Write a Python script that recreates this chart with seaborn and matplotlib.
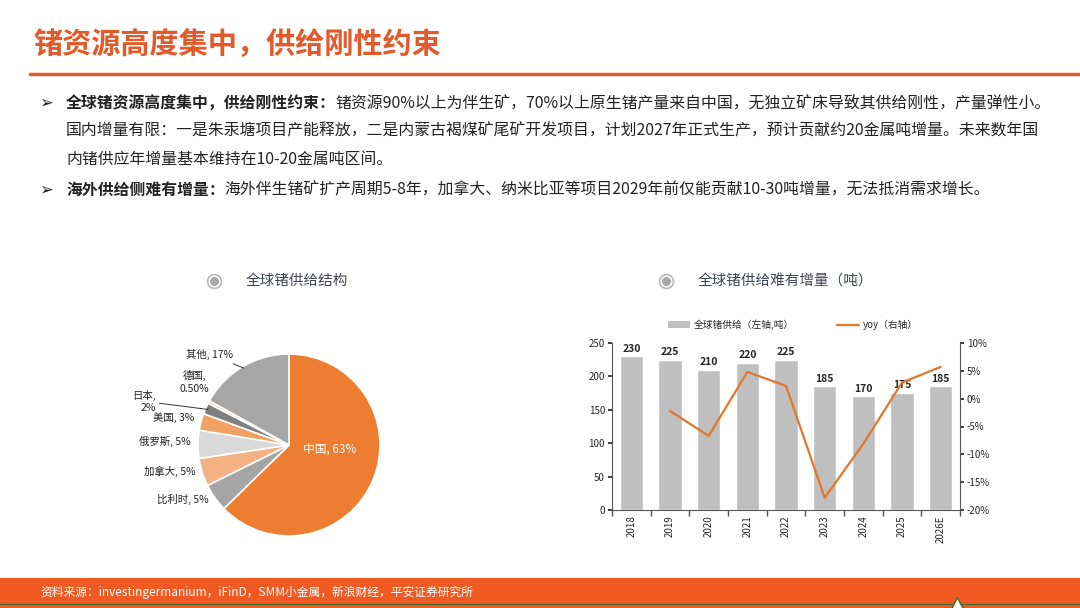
import numpy as np
import pandas as pd
import seaborn as sns
import matplotlib.pyplot as plt
from matplotlib.patches import Patch, Rectangle
from matplotlib.lines import Line2D

sns.set_theme(style="white")
plt.rcParams['font.family'] = ['Noto Sans CJK SC', 'DejaVu Sans']
plt.rcParams['axes.unicode_minus'] = False

# Data
pie_labels = ['中国', '比利时', '加拿大', '俄罗斯', '美国', '日本', '德国', '其他']
pie_values = [63, 5, 5, 5, 3, 2, 0.5, 17]
pie_pct_text = ['63%', '5%', '5%', '5%', '3%', '2%', '0.50%', '17%']
pie_colors = ['#ED7D31', '#A5A5A5', '#F4B183', '#D9D9D9', '#F2A164', '#7F7F7F', '#F8CBAD', '#A6A6A6']

years = ['2018', '2019', '2020', '2021', '2022', '2023', '2024', '2025', '2026E']
supply = [230, 225, 210, 220, 225, 185, 170, 175, 185]
yoy = [np.nan, -2.2, -6.7, 4.8, 2.3, -17.8, -8.1, 2.9, 5.7]

ORANGE = '#E2592A'
FOOT = '#F05A22'
LINE_OR = '#E2762A'

fig = plt.figure(figsize=(10.8, 6.08), dpi=100)
W, H = 1080, 608


def fx(px):
    return px / W


def fy(py):
    return 1 - py / H


# Header
fig.text(fx(33), fy(45), '锗资源高度集中，供给刚性约束', color=ORANGE, fontsize=21,
         fontweight='bold', va='center', ha='left')
fig.add_artist(Line2D([fx(30), 1], [fy(74), fy(74)], color=ORANGE, lw=2.5,
                      transform=fig.transFigure))

# Bullet text
renderer = fig.canvas.get_renderer()
body_size = 11.4
body_color = '#222222'


def draw_line(x_px, y_px, segments):
    x = fx(x_px)
    for txt, bold in segments:
        t = fig.text(x, fy(y_px), txt, fontsize=body_size, color=body_color,
                     fontweight='bold' if bold else 'normal', va='center', ha='left')
        bb = t.get_window_extent(renderer=renderer)
        x += bb.width / W


bullet_kw = dict(fontsize=12, color='#222222', va='center', ha='left',
                 fontweight='bold', family=['DejaVu Sans'])
fig.text(fx(39), fy(103), '➢', **bullet_kw)
draw_line(66, 103, [('全球锗资源高度集中，供给刚性约束：', True),
                    ('锗资源90%以上为伴生矿，70%以上原生锗产量来自中国，无独立矿床导致其供给刚性，产量弹性小。', False)])
draw_line(66, 131, [('国内增量有限：一是朱汞塘项目产能释放，二是内蒙古褐煤矿尾矿开发项目，计划2027年正式生产，预计贡献约20金属吨增量。未来数年国', False)])
draw_line(66, 159, [('内锗供应年增量基本维持在10-20金属吨区间。', False)])
fig.text(fx(39), fy(190), '➢', **bullet_kw)
draw_line(66, 190, [('海外供给侧难有增量：', True),
                    ('海外伴生锗矿扩产周期5-8年，加拿大、纳米比亚等项目2029年前仅能贡献10-30吨增量，无法抵消需求增长。', False)])

# Section titles with radio icons
for icon_x, title in [(214, '全球锗供给结构'), (666, '全球锗供给难有增量（吨）')]:
    fig.add_artist(Line2D([fx(icon_x)], [fy(281)], marker='o', markersize=10,
                          markerfacecolor='white', markeredgecolor='#BBBBBB',
                          markeredgewidth=1.3, transform=fig.transFigure))
    fig.add_artist(Line2D([fx(icon_x)], [fy(281)], marker='o', markersize=5.5,
                          markerfacecolor='#A8A8A8', markeredgecolor='#A8A8A8',
                          transform=fig.transFigure))
    fig.text(fx(icon_x + 32), fy(281), title, fontsize=10.5, color='#3F4452',
             va='center', ha='left')

# Pie chart
ax_pie = fig.add_axes([fx(198), fy(536), 182 / W, 182 / H])
wedges, _ = ax_pie.pie(pie_values, colors=pie_colors, startangle=90, counterclock=False,
                       wedgeprops=dict(edgecolor='white', linewidth=1.2))
ax_pie.set_xlim(-1, 1)
ax_pie.set_ylim(-1, 1)
ax_pie.set_aspect('equal')

lab_kw = dict(fontsize=7.5, color='#222222')
for w, name, pct in zip(wedges, pie_labels, pie_pct_text):
    mid = np.deg2rad((w.theta1 + w.theta2) / 2)
    cx, cy = np.cos(mid), np.sin(mid)
    if name == '中国':
        ax_pie.text(0.45, -0.05, f'{name}, {pct}', color='white', fontsize=8.5,
                    ha='center', va='center')
    elif name == '日本':
        ax_pie.annotate(f'{name},\n{pct}', xy=(0.97 * cx, 0.97 * cy), xytext=(-1.46, 0.48),
                        ha='right', va='center', annotation_clip=False,
                        arrowprops=dict(arrowstyle='-', color='#333333', lw=0.7,
                                        shrinkA=0, shrinkB=0), **lab_kw)
    elif name == '德国':
        ax_pie.text(-1.04, 0.69, f'{name},\n{pct}', ha='center', va='center',
                    linespacing=1.35, **lab_kw)
    elif name == '其他':
        ax_pie.annotate(f'{name}, {pct}', xy=(0.98 * cx, 0.98 * cy), xytext=(-0.62, 1.0),
                        ha='right', va='center', annotation_clip=False,
                        arrowprops=dict(arrowstyle='-', color='#333333', lw=0.7,
                                        shrinkA=2, shrinkB=0), **lab_kw)
    else:
        ax_pie.text(1.08 * cx, 1.08 * cy + 0.03, f'{name}, {pct}', ha='right', va='center',
                    **lab_kw)

# Bar + line chart
df = pd.DataFrame({'year': years, 'supply': supply, 'yoy': yoy})
ax = fig.add_axes([fx(612), fy(510), (960 - 612) / W, (510 - 343) / H])
sns.barplot(data=df, x='year', y='supply', color='#BFBFBF', width=0.6,
            saturation=1, ax=ax)
ax.bar_label(ax.containers[0], fontsize=7.5, fontweight='bold', padding=2)
ax.set_ylim(0, 250)
ax.set_yticks(range(0, 251, 50))
ax.set_xlim(-0.5, len(years) - 0.5)
ax.set_xlabel('')
ax.set_ylabel('')
ax.tick_params(axis='x', labelrotation=90, labelsize=7, length=0, pad=4)
ax.tick_params(axis='y', labelsize=7, length=3, direction='out', left=True, pad=2)
ax.set_xticks(np.arange(-0.5, len(years), 1), minor=True)
ax.tick_params(axis='x', which='minor', length=4, bottom=True, direction='out', color='#555555')
for s in ['left', 'bottom']:
    ax.spines[s].set_color('#555555')
    ax.spines[s].set_linewidth(0.8)
ax.spines['top'].set_visible(False)
ax.spines['right'].set_visible(False)

ax2 = ax.twinx()
line_df = df.dropna()
sns.lineplot(data=line_df, x=line_df.index, y='yoy', color=LINE_OR, lw=1.6, ax=ax2)
ax2.set_ylim(-20, 10)
ax2.set_yticks(range(-20, 11, 5))
ax2.set_yticklabels([f'{v}%' for v in range(-20, 11, 5)])
ax2.set_ylabel('')
ax2.tick_params(axis='y', labelsize=7, length=3, direction='out', right=True, pad=2)
ax2.spines['right'].set_color('#555555')
ax2.spines['right'].set_linewidth(0.8)
for s in ['top', 'left', 'bottom']:
    ax2.spines[s].set_visible(False)
ax2.set_xlim(-0.5, len(years) - 0.5)

handles = [Patch(facecolor='#BFBFBF', edgecolor='none'),
           Line2D([0], [0], color=LINE_OR, lw=1.6)]
fig.legend(handles, ['全球锗供给（左轴,吨）', 'yoy（右轴）'], loc='center',
           bbox_to_anchor=(fx(793), fy(325)), ncol=2, frameon=False, fontsize=7,
           handlelength=2.2, handleheight=0.7, columnspacing=4.5, handletextpad=0.4)

# Footer
fig.add_artist(Rectangle((0, 0), 1, fy(578), facecolor=FOOT, edgecolor='none',
                         transform=fig.transFigure, zorder=0))
fig.add_artist(Line2D([0, 1], [fy(604), fy(604)], color='#3E6B2E', lw=0.8,
                      transform=fig.transFigure))
fig.text(fx(40), fy(592), '资料来源：investingermanium，iFinD，SMM小金属，新浪财经，平安证券研究所',
         color='white', fontsize=8.5, va='center', ha='left')
fig.add_artist(Line2D([fx(957)], [fy(603)], marker='^', markersize=9, markerfacecolor='white',
                      markeredgecolor='#3E6B2E', markeredgewidth=1, transform=fig.transFigure))

fig.savefig('out.png', dpi=100)
